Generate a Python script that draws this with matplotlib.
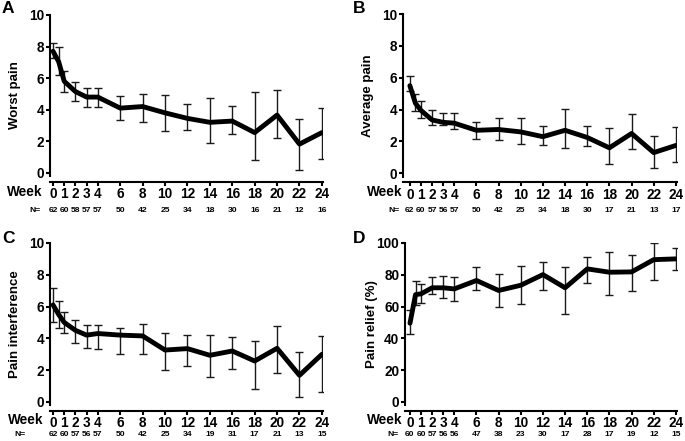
import matplotlib
matplotlib.use("Agg")
import matplotlib.pyplot as plt

plt.rcParams['font.family'] = ['Liberation Sans', 'DejaVu Sans']
plt.rcParams['font.weight'] = 'bold'

# weeks (0.5 = extra early visit without a tick)
weeks = [0, 0.5, 1, 2, 3, 4, 6, 8, 10, 12, 14, 16, 18, 20, 22, 24]
tick_weeks = [0, 1, 2, 3, 4, 6, 8, 10, 12, 14, 16, 18, 20, 22, 24]

worst_mean = [7.7, 7.05, 5.8, 5.15, 4.8, 4.8, 4.1, 4.2, 3.8, 3.45, 3.2, 3.28, 2.55, 3.66, 1.82, 2.55]
worst_hi = [8.2, 7.95, 6.45, 5.77, 5.4, 5.4, 4.87, 5.02, 4.96, 4.35, 4.71, 4.23, 5.13, 5.23, 3.41, 4.08]
worst_lo = [7.3, 6.17, 5.14, 4.56, 4.15, 4.15, 3.35, 3.2, 2.66, 2.72, 1.88, 2.45, 0.84, 2.2, 0.17, 0.9]
worst_n = [62, 60, 58, 57, 57, 50, 42, 25, 34, 18, 30, 16, 21, 12, 16]

avg_mean = [5.5, 4.4, 3.95, 3.35, 3.2, 3.15, 2.7, 2.75, 2.6, 2.3, 2.7, 2.25, 1.6, 2.5, 1.3, 1.75]
avg_hi = [6.1, 4.95, 4.55, 3.97, 3.77, 3.77, 3.24, 3.45, 3.45, 2.97, 4.04, 2.97, 2.82, 3.7, 2.36, 2.93]
avg_lo = [5.16, 3.9, 3.45, 3.03, 3.03, 2.76, 2.15, 2.09, 1.82, 1.78, 1.57, 1.74, 0.56, 1.53, 0.31, 0.73]
avg_n = [62, 60, 57, 56, 57, 50, 42, 25, 34, 18, 30, 17, 21, 13, 17]

inter_mean = [6.1, 5.5, 5.0, 4.5, 4.2, 4.3, 4.2, 4.15, 3.26, 3.35, 2.93, 3.2, 2.57, 3.37, 1.67, 2.99]
inter_hi = [7.17, 6.37, 5.64, 5.14, 4.81, 4.81, 4.67, 4.92, 4.31, 4.23, 4.2, 4.08, 3.81, 4.77, 3.16, 4.15]
inter_lo = [5.05, 4.67, 4.35, 3.73, 3.37, 3.31, 2.99, 2.99, 2.0, 2.27, 1.55, 2.05, 0.79, 1.84, 0.31, 0.6]
inter_n = [62, 60, 57, 56, 57, 50, 42, 25, 34, 19, 31, 17, 21, 13, 15]

relief_mean = [49.5, 67.5, 68.0, 71.8, 71.8, 71.1, 76.4, 70.1, 73.4, 80.1, 71.8, 83.7, 81.6, 81.8, 89.5, 90.0]
relief_hi = [58.0, 76.0, 74.0, 78.5, 79.0, 78.7, 84.9, 80.5, 85.8, 88.1, 84.7, 91.2, 94.4, 92.5, 100.0, 97.1]
relief_lo = [42.5, 61.0, 62.0, 67.6, 65.5, 63.4, 70.7, 59.8, 61.9, 70.1, 55.6, 74.9, 67.2, 69.7, 76.4, 83.3]
relief_n = [60, 60, 57, 56, 56, 47, 38, 23, 30, 17, 28, 17, 19, 12, 15]

W, H = 685, 441
fig = plt.figure(figsize=(W / 100, H / 100), dpi=100)


def px_axes(left, top, right, bottom):
    return fig.add_axes([left / W, 1 - bottom / H, (right - left) / W, (bottom - top) / H])


def panel(box, xlim, ylim, yticks, mean, lo, hi, ns, ylabel, letter, letter_xy,
          ylabel_x, week_x, n_x, n_off, week_off):
    ax = px_axes(*box)
    yerr = [[m - l for m, l in zip(mean, lo)], [h - m for m, h in zip(mean, hi)]]
    ax.errorbar(weeks, mean, yerr=yerr, fmt='none', ecolor='#1a1a1a',
                elinewidth=1.0, capsize=2.8, capthick=1.0, zorder=2)
    ax.plot(weeks, mean, color='black', lw=3.5, solid_joinstyle='round',
            solid_capstyle='round', zorder=3)
    ax.set_xlim(*xlim)
    ax.set_ylim(*ylim)
    ax.set_yticks(yticks)
    ax.set_xticks(tick_weeks)
    ax.set_xticklabels([str(w) for w in tick_weeks])
    for s in ['top', 'right']:
        ax.spines[s].set_visible(False)
    for s in ['left', 'bottom']:
        ax.spines[s].set_linewidth(1.5)
    ax.spines['bottom'].set_position(('outward', 4.3))
    ax.tick_params(axis='y', length=3, width=1.5, labelsize=9.8, pad=1.2)
    ax.tick_params(axis='x', length=3, width=1.5, labelsize=9.8, pad=week_off)
    fig.text(ylabel_x / W, 1 - (box[1] + box[3]) / 2 / H, ylabel, rotation=90,
             ha='center', va='center', fontsize=9.5, fontweight='bold')
    for w, n in zip(tick_weeks, ns):
        ax.annotate(str(n), xy=(w, 0), xycoords=('data', 'axes fraction'),
                    xytext=(0, -n_off * 0.72), textcoords='offset points',
                    ha='center', va='center', fontsize=6.1)
    fig.text(week_x / W, 1 - (box[3] + 15.5) / H, 'Week', ha='right', va='center',
             fontsize=9.8, fontweight='bold')
    fig.text(n_x / W, 1 - (box[3] + n_off) / H, 'N=', ha='right', va='center',
             fontsize=6.1)
    fig.text(letter_xy[0] / W, 1 - letter_xy[1] / H, letter, ha='left', va='top',
             fontsize=12.5, fontweight='bold')
    return ax


panel((50, 15, 323, 176), (-0.27, 24.1), (-0.2, 10), [0, 2, 4, 6, 8, 10],
      worst_mean, worst_lo, worst_hi, worst_n, 'Worst pain', 'A', (2, 1),
      15, 42, 41, 34, 0.8)
panel((403, 14, 677, 176.5), (-0.62, 24.1), (-0.2, 10), [0, 2, 4, 6, 8, 10],
      avg_mean, avg_lo, avg_hi, avg_n, 'Average pain', 'B', (353, 1),
      368, 402, 400, 34, 0.8)
panel((50, 243, 323, 405), (-0.27, 24.1), (-0.2, 10), [0, 2, 4, 6, 8, 10],
      inter_mean, inter_lo, inter_hi, inter_n, 'Pain interference', 'C', (2, 231),
      15, 43, 26, 29, 0.3)
panel((405, 243, 677, 405), (-0.45, 24.1), (-2, 100), [0, 20, 40, 60, 80, 100],
      relief_mean, relief_lo, relief_hi, relief_n, 'Pain relief (%)', 'D', (353, 231),
      372, 402, 399, 29, 0.3)

fig.savefig('out.png', dpi=100)
